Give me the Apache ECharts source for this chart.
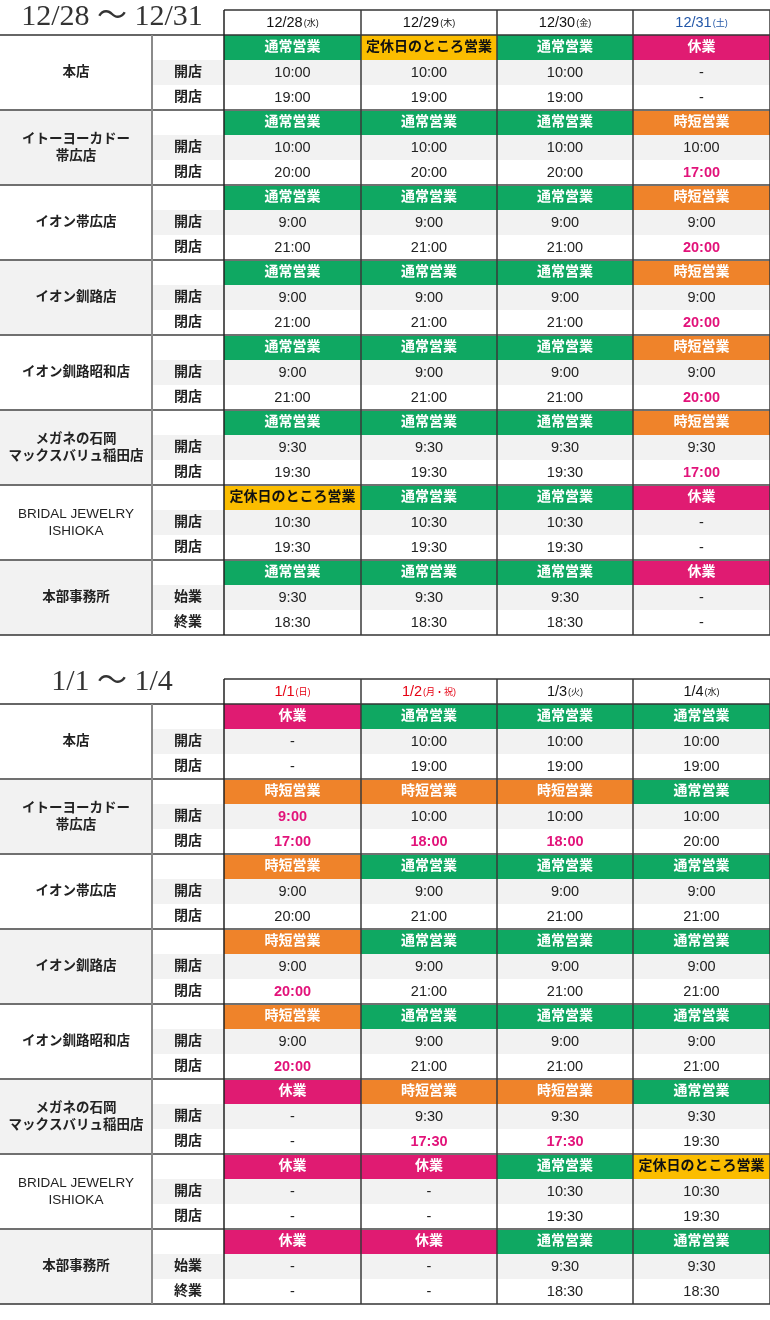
<!DOCTYPE html>
<html>
<head>
<meta charset="utf-8">
<script src="https://cdn.jsdelivr.net/npm/echarts@6/dist/echarts.min.js"></script>
<style>html,body{margin:0;padding:0;background:#fff;}#c{width:770px;height:1320px;}</style>
</head>
<body>
<div id="c"></div>
<script>
// ---------- DATA ----------
const stores = ['本店', 'イトーヨーカドー\n帯広店', 'イオン帯広店', 'イオン釧路店', 'イオン釧路昭和店', 'メガネの石岡\nマックスバリュ稲田店', 'BRIDAL JEWELRY\nISHIOKA', '本部事務所'];
const openLabels = ['開店', '開店', '開店', '開店', '開店', '開店', '開店', '始業'];
const closeLabels = ['閉店', '閉店', '閉店', '閉店', '閉店', '閉店', '閉店', '終業'];

const title1 = '12/28 〜 12/31';
const dates1 = ['12/28', '12/29', '12/30', '12/31'];
const days1 = ['水', '木', '金', '土'];
const dateKinds1 = ['', '', '', 'sat'];
const status1 = [
  ['通常営業', '定休日のところ営業', '通常営業', '休業'],
  ['通常営業', '通常営業', '通常営業', '時短営業'],
  ['通常営業', '通常営業', '通常営業', '時短営業'],
  ['通常営業', '通常営業', '通常営業', '時短営業'],
  ['通常営業', '通常営業', '通常営業', '時短営業'],
  ['通常営業', '通常営業', '通常営業', '時短営業'],
  ['定休日のところ営業', '通常営業', '通常営業', '休業'],
  ['通常営業', '通常営業', '通常営業', '休業']
];
const open1 = [
  ['10:00', '10:00', '10:00', '-'],
  ['10:00', '10:00', '10:00', '10:00'],
  ['9:00', '9:00', '9:00', '9:00'],
  ['9:00', '9:00', '9:00', '9:00'],
  ['9:00', '9:00', '9:00', '9:00'],
  ['9:30', '9:30', '9:30', '9:30'],
  ['10:30', '10:30', '10:30', '-'],
  ['9:30', '9:30', '9:30', '-']
];
const close1 = [
  ['19:00', '19:00', '19:00', '-'],
  ['20:00', '20:00', '20:00', '17:00'],
  ['21:00', '21:00', '21:00', '20:00'],
  ['21:00', '21:00', '21:00', '20:00'],
  ['21:00', '21:00', '21:00', '20:00'],
  ['19:30', '19:30', '19:30', '17:00'],
  ['19:30', '19:30', '19:30', '-'],
  ['18:30', '18:30', '18:30', '-']
];
// [store, day, 'open'|'close'] : changed hours
const changed1 = [[1, 3, 'close'], [2, 3, 'close'], [3, 3, 'close'], [4, 3, 'close'], [5, 3, 'close']];

const title2 = '1/1 〜 1/4';
const dates2 = ['1/1', '1/2', '1/3', '1/4'];
const days2 = ['日', '月・祝', '火', '水'];
const dateKinds2 = ['hol', 'hol', '', ''];
const status2 = [
  ['休業', '通常営業', '通常営業', '通常営業'],
  ['時短営業', '時短営業', '時短営業', '通常営業'],
  ['時短営業', '通常営業', '通常営業', '通常営業'],
  ['時短営業', '通常営業', '通常営業', '通常営業'],
  ['時短営業', '通常営業', '通常営業', '通常営業'],
  ['休業', '時短営業', '時短営業', '通常営業'],
  ['休業', '休業', '通常営業', '定休日のところ営業'],
  ['休業', '休業', '通常営業', '通常営業']
];
const open2 = [
  ['-', '10:00', '10:00', '10:00'],
  ['9:00', '10:00', '10:00', '10:00'],
  ['9:00', '9:00', '9:00', '9:00'],
  ['9:00', '9:00', '9:00', '9:00'],
  ['9:00', '9:00', '9:00', '9:00'],
  ['-', '9:30', '9:30', '9:30'],
  ['-', '-', '10:30', '10:30'],
  ['-', '-', '9:30', '9:30']
];
const close2 = [
  ['-', '19:00', '19:00', '19:00'],
  ['17:00', '18:00', '18:00', '20:00'],
  ['20:00', '21:00', '21:00', '21:00'],
  ['20:00', '21:00', '21:00', '21:00'],
  ['20:00', '21:00', '21:00', '21:00'],
  ['-', '17:30', '17:30', '19:30'],
  ['-', '-', '19:30', '19:30'],
  ['-', '-', '18:30', '18:30']
];
const changed2 = [[1, 0, 'open'], [1, 0, 'close'], [1, 1, 'close'], [1, 2, 'close'], [3, 0, 'close'], [4, 0, 'close'], [5, 1, 'close'], [5, 2, 'close']];

// ---------- STYLE / LAYOUT ----------
const COL = [0, 152, 224, 361, 497, 633, 770];   // column edges on the x scale
const FONT = '"Liberation Sans", Arial, "Noto Sans CJK JP", sans-serif';
const SERIF = '"Liberation Serif", "Times New Roman", "Noto Sans CJK JP", serif';
const GRAY = '#f2f2f2';
const TXT = '#222';
const HL = '#e2137a';
const statusStyle = {
  '通常営業': { fill: '#0fa862', color: '#fff' },
  '定休日のところ営業': { fill: '#fbbd00', color: '#111' },
  '休業': { fill: '#e01b72', color: '#fff' },
  '時短営業': { fill: '#ef832a', color: '#fff' }
};
const dateColor = { '': '#111', 'sat': '#2357a8', 'hol': '#e60012' };

function buildCells(dates, days, kinds, status, open, close, changed) {
  const cells = [];
  const isHL = (s, d, k) => changed.some(c => c[0] === s && c[1] === d && c[2] === k);
  dates.forEach((dt, j) => {
    const col = dateColor[kinds[j]];
    cells.push({ value: [COL[j + 2], COL[j + 3], 0, 1], fill: '#fff',
      text: '{d|' + dt + '}{w|(' + days[j] + ')}',
      rich: { d: { fontSize: 14.5, fill: col, fontFamily: FONT }, w: { fontSize: 9, fill: col, fontFamily: FONT, padding: [2, 0, 0, 1] } } });
  });
  stores.forEach((name, i) => {
    const r = 1 + 3 * i;
    cells.push({ value: [COL[0], COL[1], r, r + 3], fill: i % 2 ? GRAY : '#fff', text: name,
      size: 13.5, weight: /[A-Z]/.test(name) ? 'normal' : 'bold', color: TXT, lh: 17 });
    cells.push({ value: [COL[1], COL[2], r, r + 1], fill: '#fff', text: '' });
    cells.push({ value: [COL[1], COL[2], r + 1, r + 2], fill: GRAY, text: openLabels[i], size: 14, weight: 'bold', color: TXT });
    cells.push({ value: [COL[1], COL[2], r + 2, r + 3], fill: '#fff', text: closeLabels[i], size: 14, weight: 'bold', color: TXT });
    for (let j = 0; j < 4; j++) {
      const st = statusStyle[status[i][j]];
      cells.push({ value: [COL[j + 2], COL[j + 3], r, r + 1], fill: st.fill, text: status[i][j], size: 14, weight: 'bold', color: st.color });
      const ho = isHL(i, j, 'open'), hc = isHL(i, j, 'close');
      cells.push({ value: [COL[j + 2], COL[j + 3], r + 1, r + 2], fill: GRAY, text: open[i][j], size: 14.5, weight: ho ? 'bold' : 'normal', color: ho ? HL : TXT });
      cells.push({ value: [COL[j + 2], COL[j + 3], r + 2, r + 3], fill: '#fff', text: close[i][j], size: 14.5, weight: hc ? 'bold' : 'normal', color: hc ? HL : TXT });
    }
  });
  return cells;
}

function buildLines() {
  const lines = [];
  const n = 1 + 3 * stores.length;
  lines.push({ value: [COL[2], 0, COL[6], 0], color: '#333', w: 1.5 });
  for (let k = 0; k <= stores.length; k++) {
    const y = 1 + 3 * k;
    lines.push({ value: [COL[0], y, COL[6], y], color: (k === 0 || k === stores.length) ? '#333' : '#707070', w: (k === 0 || k === stores.length) ? 1.5 : 2 });
  }
  lines.push({ value: [COL[1], 1, COL[1], n], color: '#8a8a8a', w: 2 });
  for (let c = 2; c <= 6; c++) {
    lines.push({ value: [COL[c], 0, COL[c], n], color: c === 2 ? '#222' : '#3a3a3a', w: 1.5 });
  }
  return lines;
}

function cellRenderer(cells) {
  return function (params, api) {
    const c = cells[params.dataIndex];
    const p0 = api.coord([api.value(0), api.value(2)]);
    const p1 = api.coord([api.value(1), api.value(3)]);
    const ts = { text: c.text, fill: c.color || TXT, fontFamily: FONT, fontSize: c.size || 14, fontWeight: c.weight || 'normal', align: 'center', verticalAlign: 'middle' };
    if (c.rich) ts.rich = c.rich;
    if (c.lh) ts.lineHeight = c.lh;
    return {
      type: 'rect',
      shape: { x: p0[0], y: p0[1], width: p1[0] - p0[0], height: p1[1] - p0[1] },
      style: { fill: c.fill, stroke: null },
      textContent: { style: ts },
      textConfig: { position: 'inside' }
    };
  };
}
function lineRenderer(lines) {
  return function (params, api) {
    const l = lines[params.dataIndex];
    const p0 = api.coord([api.value(0), api.value(1)]);
    const p1 = api.coord([api.value(2), api.value(3)]);
    return { type: 'line', shape: { x1: p0[0], y1: p0[1], x2: p1[0], y2: p1[1] }, style: { stroke: l.color, lineWidth: l.w } };
  };
}

const cells1 = buildCells(dates1, days1, dateKinds1, status1, open1, close1, changed1);
const cells2 = buildCells(dates2, days2, dateKinds2, status2, open2, close2, changed2);
const lines1 = buildLines();
const lines2 = buildLines();
const nRows = 1 + 3 * stores.length;

const chart = echarts.init(document.getElementById('c'), null, { renderer: 'canvas' });
chart.setOption({
  animation: false,
  backgroundColor: '#fff',
  graphic: [
    { type: 'text', x: 112, y: 17, style: { text: title1, font: '30px ' + SERIF, fill: '#333', align: 'center', verticalAlign: 'middle' } },
    { type: 'text', x: 112, y: 682, style: { text: title2, font: '30px ' + SERIF, fill: '#333', align: 'center', verticalAlign: 'middle' } }
  ],
  grid: [
    { left: 0, top: 10, width: 770, height: 625 },
    { left: 0, top: 679, width: 770, height: 625 }
  ],
  xAxis: [
    { type: 'value', min: COL[0], max: COL[6], show: false, gridIndex: 0 },
    { type: 'value', min: COL[0], max: COL[6], show: false, gridIndex: 1 }
  ],
  yAxis: [
    { type: 'value', min: 0, max: nRows, inverse: true, show: false, gridIndex: 0 },
    { type: 'value', min: 0, max: nRows, inverse: true, show: false, gridIndex: 1 }
  ],
  series: [
    { type: 'custom', xAxisIndex: 0, yAxisIndex: 0, renderItem: cellRenderer(cells1), data: cells1.map(c => c.value), z: 1, clip: false },
    { type: 'custom', xAxisIndex: 0, yAxisIndex: 0, renderItem: lineRenderer(lines1), data: lines1.map(l => l.value), z: 2, clip: false },
    { type: 'custom', xAxisIndex: 1, yAxisIndex: 1, renderItem: cellRenderer(cells2), data: cells2.map(c => c.value), z: 1, clip: false },
    { type: 'custom', xAxisIndex: 1, yAxisIndex: 1, renderItem: lineRenderer(lines2), data: lines2.map(l => l.value), z: 2, clip: false }
  ]
});
</script>
</body>
</html>
